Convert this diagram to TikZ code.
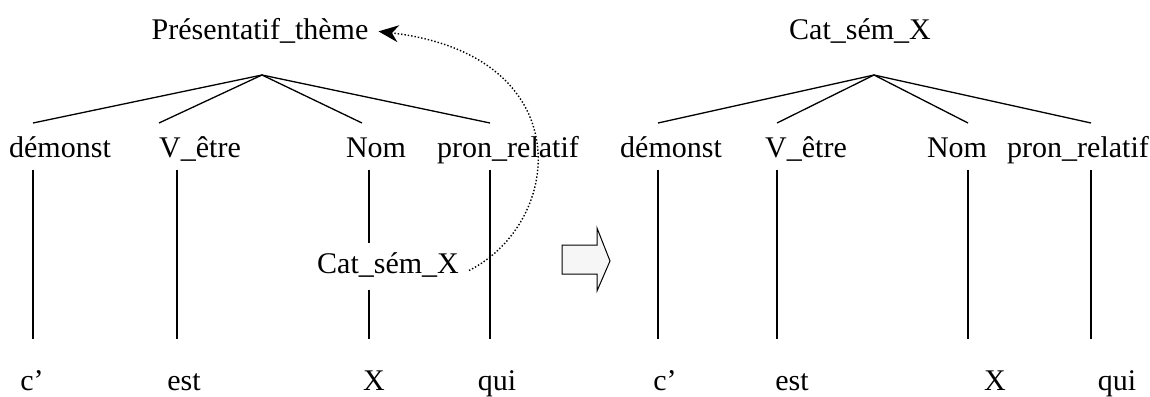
\documentclass[tikz,border=0pt]{standalone}
\usepackage{fontspec}
\setmainfont{Liberation Serif}
\usetikzlibrary{arrows.meta}

\begin{document}
\begin{tikzpicture}[
    x=1pt, y=-1pt,
    lab/.style={anchor=base, inner sep=10pt, font=\fontsize{30}{35}\selectfont},
    branch/.style={draw, line width=1.3pt},
    move/.style={draw, dotted, line width=1.4pt, -{Stealth[length=20pt,width=17pt]}},
    bigarrow/.style={draw, line width=1pt, fill=gray!7}
]
\useasboundingbox (0,0) rectangle (1150,396);

% left tree
\node[lab] (lpres) at (260,40) {Présentatif\_thème};
\coordinate (lroot) at (262,75);
\node[lab] (ldem) at (60,157) {démonst};
\node[lab] (lvet) at (200,157) {V\_être};
\node[lab] (lnom) at (376,157) {Nom};
\node[lab] (lpro) at (508,157) {pron\_relatif};
\node[lab] (lcat) at (388,273) {Cat\_sém\_X};
\node[lab] (lc) at (32,390) {c’};
\node[lab] (lest) at (184,390) {est};
\node[lab] (lx) at (374,390) {X};
\node[lab] (lqui) at (497,390) {qui};

\coordinate (la1) at (33,123);
\coordinate (la2) at (159,123);
\coordinate (la3) at (362,123);
\coordinate (la4) at (490,123);
\coordinate (lv1) at (33,170);
\coordinate (lv2) at (177,170);
\coordinate (lv3) at (369,170);
\coordinate (lv4) at (490,170);
\coordinate (lw1) at (33,339);
\coordinate (lw2) at (177,339);
\coordinate (lw3) at (369,339);
\coordinate (lw4) at (490,339);
\coordinate (lg1) at (369,243);
\coordinate (lg2) at (369,290);

\draw[branch] (lroot) -- (la1);
\draw[branch] (lroot) -- (la2);
\draw[branch] (lroot) -- (la3);
\draw[branch] (lroot) -- (la4);
\draw[branch] (lv1) -- (lw1);
\draw[branch] (lv2) -- (lw2);
\draw[branch] (lv3) -- (lg1);
\draw[branch] (lg2) -- (lw3);
\draw[branch] (lv4) -- (lw4);

\draw[move] ([yshift=-6pt]lcat.east) .. controls (565,222) and (580,55) .. (lpres.east);

% transformation arrow
\draw[bigarrow] (562,245) -- (597,245) -- (597,228) -- (610,261)
    -- (597,291) -- (597,274) -- (562,274) -- cycle;

% right tree
\node[lab] (rcat) at (860,40) {Cat\_sém\_X};
\coordinate (rroot) at (874,75);
\node[lab] (rdem) at (671,157) {démonst};
\node[lab] (rvet) at (806,157) {V\_être};
\node[lab] (rnom) at (957,157) {Nom};
\node[lab] (rpro) at (1078,157) {pron\_relatif};
\node[lab] (rc) at (665,390) {c’};
\node[lab] (rest) at (792,390) {est};
\node[lab] (rx) at (995,390) {X};
\node[lab] (rqui) at (1117,390) {qui};

\coordinate (ra1) at (658,123);
\coordinate (ra2) at (777,123);
\coordinate (ra3) at (968,123);
\coordinate (ra4) at (1091,123);
\coordinate (rv1) at (658,170);
\coordinate (rv2) at (777,170);
\coordinate (rv3) at (968,170);
\coordinate (rv4) at (1091,170);
\coordinate (rw1) at (658,339);
\coordinate (rw2) at (777,339);
\coordinate (rw3) at (968,339);
\coordinate (rw4) at (1091,339);

\draw[branch] (rroot) -- (ra1);
\draw[branch] (rroot) -- (ra2);
\draw[branch] (rroot) -- (ra3);
\draw[branch] (rroot) -- (ra4);
\draw[branch] (rv1) -- (rw1);
\draw[branch] (rv2) -- (rw2);
\draw[branch] (rv3) -- (rw3);
\draw[branch] (rv4) -- (rw4);
\end{tikzpicture}
\end{document}
